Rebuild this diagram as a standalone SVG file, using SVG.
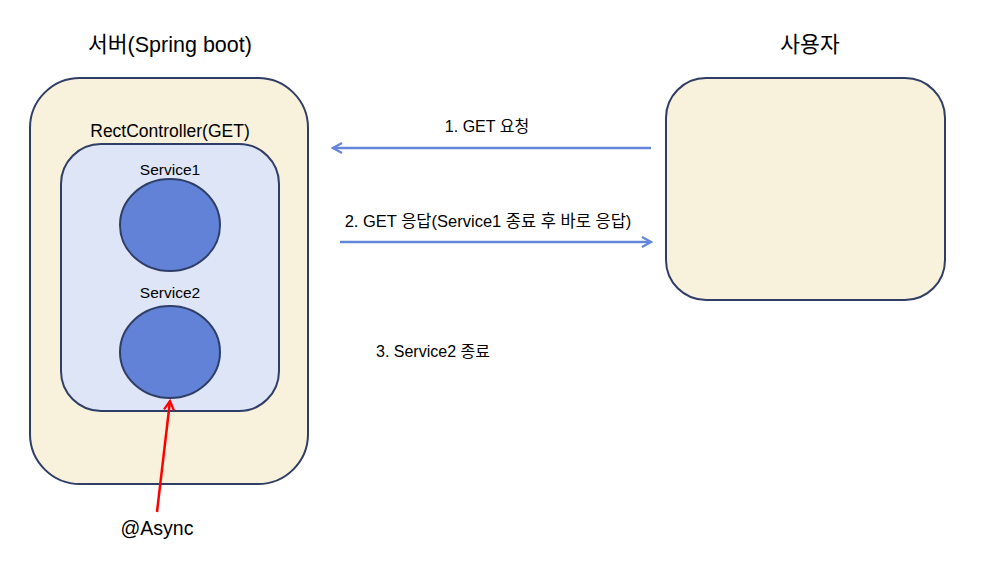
<svg xmlns="http://www.w3.org/2000/svg" width="991" height="565" viewBox="0 0 991 565">
<style>
text{font-family:"Liberation Sans","Noto Sans CJK KR",sans-serif;fill:#000}
.box{fill:#F8F1DB;stroke:#2F3E66;stroke-width:2}
.inner{fill:#DEE5F6;stroke:#2F3E66;stroke-width:2}
.svc{fill:#6282D7;stroke:#2F3E66;stroke-width:2}
.flow{stroke:#6486DA;stroke-width:2.5;fill:none}
.lbl{font-size:15.5px}
</style>
<defs>
<marker id="ab" viewBox="0 0 12 12" refX="10" refY="6" markerWidth="12" markerHeight="12" markerUnits="userSpaceOnUse" orient="auto">
<path d="M1,1 L10,6 L1,11" fill="none" stroke="#6486DA" stroke-width="2.2"/>
</marker>
<marker id="ar" viewBox="0 0 12 12" refX="10" refY="6" markerWidth="12" markerHeight="12" markerUnits="userSpaceOnUse" orient="auto">
<path d="M1,1 L10,6 L1,11" fill="none" stroke="#FF0000" stroke-width="2.2"/>
</marker>
</defs>
<g id="server">
<text x="170" y="52" font-size="21.5" text-anchor="middle">서버(Spring boot)</text>
<rect class="box" x="30" y="78" width="278" height="406" rx="50"/>
</g>
<g id="controller">
<text x="170" y="137" font-size="17.5" text-anchor="middle">RectController(GET)</text>
<rect class="inner" x="61" y="144" width="218" height="267" rx="40"/>
</g>
<g id="service1">
<text x="170" y="175" class="lbl" text-anchor="middle">Service1</text>
<ellipse class="svc" cx="170" cy="225" rx="50" ry="46"/>
</g>
<g id="service2">
<text x="170" y="298" class="lbl" text-anchor="middle">Service2</text>
<ellipse class="svc" cx="170" cy="352" rx="50" ry="46"/>
</g>
<g id="user">
<text x="810" y="52" font-size="21.5" text-anchor="middle">사용자</text>
<rect class="box" x="666" y="78" width="279" height="222" rx="40"/>
</g>
<g id="async">
<text x="157" y="535" font-size="19.5" text-anchor="middle">@Async</text>
</g>
<g id="connectors">
<line class="flow" x1="651" y1="148" x2="333" y2="148" marker-end="url(#ab)"/>
<line class="flow" x1="340" y1="242" x2="651" y2="242" marker-end="url(#ab)"/>
<line x1="157" y1="512" x2="170" y2="401" stroke="#FF0000" stroke-width="2.5" marker-end="url(#ar)"/>
<text x="487" y="132" font-size="16" text-anchor="middle">1. GET 요청</text>
<text x="488" y="227" font-size="16.5" text-anchor="middle">2. GET 응답(Service1 종료 후 바로 응답)</text>
<text x="376" y="357" font-size="16">3. Service2 종료</text>
</g>
</svg>
